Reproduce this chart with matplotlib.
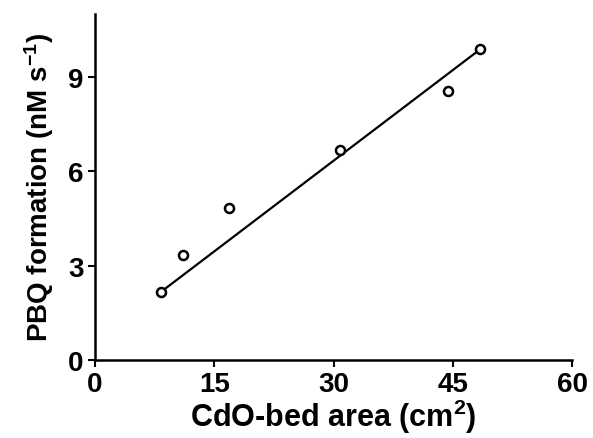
import numpy as np
import matplotlib
matplotlib.use("Agg")
import matplotlib.pyplot as plt

plt.rcParams['font.family'] = ['Liberation Sans', 'DejaVu Sans']
plt.rcParams['font.weight'] = 'bold'
plt.rcParams['mathtext.fontset'] = 'custom'
plt.rcParams['mathtext.rm'] = 'Liberation Sans:bold'
plt.rcParams['mathtext.bf'] = 'Liberation Sans:bold'
plt.rcParams['mathtext.default'] = 'bf'

# measured points
area = [8.3, 11.1, 16.9, 30.8, 44.4, 48.4]
pbq = [2.16, 3.33, 4.83, 6.67, 8.54, 9.87]

# drawn trend line
fit_x = [8.3, 48.4]
fit_y = [2.16, 9.87]

xticks = [0, 15, 30, 45, 60]
yticks = [0, 3, 6, 9]

fig = plt.figure(figsize=(5.93, 4.39), dpi=100)
ax = fig.add_axes([0.160, 0.178, 0.805, 0.788])

ax.plot(fit_x, fit_y, color='black', lw=1.6)
ax.plot(area, pbq, 'o', mfc='white', mec='black', mew=1.8, ms=6.5)

ax.set_xlim(0, 60)
ax.set_ylim(0, 11)
ax.set_xticks(xticks)
ax.set_yticks(yticks)

for s in ['top', 'right']:
    ax.spines[s].set_visible(False)
for s in ['left', 'bottom']:
    ax.spines[s].set_linewidth(1.8)
ax.tick_params(direction='out', length=5, width=1.5, labelsize=20, pad=3)
for lab in ax.get_xticklabels() + ax.get_yticklabels():
    lab.set_fontweight('bold')

ax.set_xlabel(r'CdO-bed area (cm$^{2}$)', fontsize=22, fontweight='bold', labelpad=0)
ax.set_ylabel(r'PBQ formation (nM s$^{-1}$)', fontsize=20, fontweight='bold', labelpad=9)

fig.savefig('out.png', dpi=100)
